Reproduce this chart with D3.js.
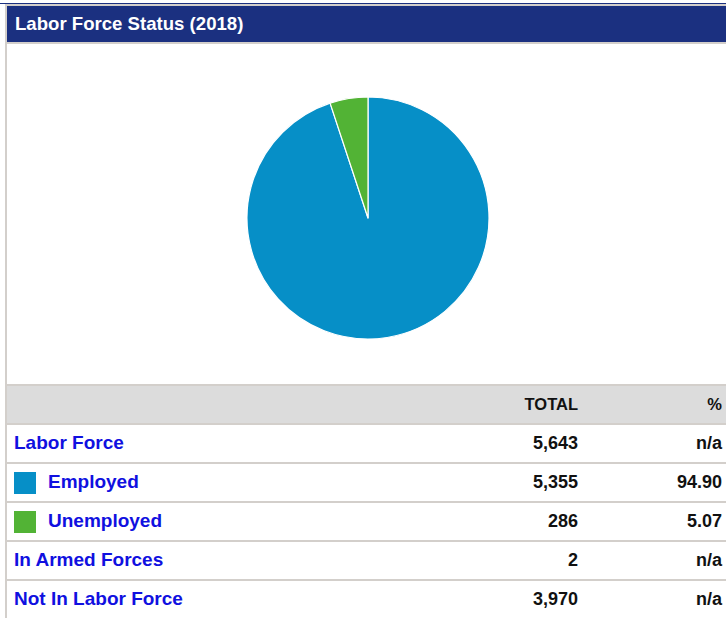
<!DOCTYPE html>
<html>
<head>
<meta charset="utf-8">
<script src="https://cdn.jsdelivr.net/npm/d3@7"></script>
<style>
  html, body { margin: 0; padding: 0; background: #fff; }
  svg { display: block; font-family: "Liberation Sans", Arial, sans-serif; }
</style>
</head>
<body>
<div id="chart"></div>
<script>
// chart data
const title = 'Labor Force Status (2018)';
const pieCategories = ['Employed', 'Unemployed'];
const pieValues = [5355, 286];
const pieColors = ['#068fc7', '#52b335'];

const rowLabels = ['Labor Force', 'Employed', 'Unemployed', 'In Armed Forces', 'Not In Labor Force'];
const rowTotals = ['5,643', '5,355', '286', '2', '3,970'];
const rowPercents = ['n/a', '94.90', '5.07', 'n/a', 'n/a'];
const columnHeads = ['TOTAL', '%'];

const W = 726, H = 618;
const navy = '#1b3080', lineGray = '#d3cfcb', headGray = '#dcdcdc', linkBlue = '#1010e0';

const svg = d3.select('#chart').append('svg')
    .attr('width', W)
    .attr('height', H);

// title bar
svg.append('rect').attr('x', 0).attr('y', 3).attr('width', W).attr('height', 1).attr('fill', navy);
svg.append('rect').attr('x', 5).attr('y', 4).attr('width', W).attr('height', 2).attr('fill', lineGray);
svg.append('rect').attr('x', 7).attr('y', 6).attr('width', W).attr('height', 36).attr('fill', navy);
svg.append('rect').attr('x', 5).attr('y', 42).attr('width', W).attr('height', 2).attr('fill', lineGray);
svg.append('text')
    .attr('x', 15).attr('y', 30)
    .attr('fill', '#fff')
    .attr('font-size', 18.6).attr('font-weight', 'bold')
    .text(title);

// left border
svg.append('rect').attr('x', 5).attr('y', 4).attr('width', 2).attr('height', H).attr('fill', lineGray);

// pie
const pie = d3.pie().sort(null);
const arc = d3.arc().innerRadius(0).outerRadius(121);
const pg = svg.append('g').attr('transform', 'translate(368,218)');
pg.selectAll('path')
    .data(pie(pieValues))
    .join('path')
    .attr('d', arc)
    .attr('fill', (d, i) => pieColors[i])
    .attr('stroke', '#fff')
    .attr('stroke-width', 1.2)
    .attr('stroke-linejoin', 'round');

// table
const tableTop = 384;
svg.append('rect').attr('x', 7).attr('y', tableTop).attr('width', W).attr('height', 2).attr('fill', lineGray);
svg.append('rect').attr('x', 7).attr('y', tableTop + 2).attr('width', W).attr('height', 37).attr('fill', headGray);
svg.append('rect').attr('x', 7).attr('y', tableTop + 39).attr('width', W).attr('height', 2).attr('fill', lineGray);

const colX = [578, 722];
svg.selectAll('text.colhead')
    .data(columnHeads)
    .join('text')
    .attr('class', 'colhead')
    .attr('x', (d, i) => colX[i])
    .attr('y', 410)
    .attr('text-anchor', 'end')
    .attr('font-size', 16.5).attr('font-weight', 'bold')
    .attr('fill', '#111')
    .text(d => d);

const y = d3.scaleBand()
    .domain(rowLabels)
    .range([425, 425 + 39 * rowLabels.length]);

const rows = svg.selectAll('g.row')
    .data(rowLabels)
    .join('g')
    .attr('class', 'row')
    .attr('transform', d => `translate(0,${y(d)})`);

rows.append('rect')
    .attr('x', 7).attr('y', y.bandwidth() - 2)
    .attr('width', W).attr('height', 2)
    .attr('fill', lineGray);

rows.filter(d => pieCategories.includes(d))
    .append('rect')
    .attr('x', 14).attr('y', 8)
    .attr('width', 22).attr('height', 22)
    .attr('fill', d => pieColors[pieCategories.indexOf(d)]);

rows.append('text')
    .attr('x', d => pieCategories.includes(d) ? 48 : 14)
    .attr('y', 24)
    .attr('fill', linkBlue)
    .attr('font-size', 19).attr('font-weight', 'bold')
    .text(d => d);

rows.append('text')
    .attr('x', colX[0]).attr('y', 24)
    .attr('text-anchor', 'end')
    .attr('font-size', 18).attr('font-weight', 'bold')
    .attr('fill', '#111')
    .text((d, i) => rowTotals[i]);

rows.append('text')
    .attr('x', colX[1]).attr('y', 24)
    .attr('text-anchor', 'end')
    .attr('font-size', 18).attr('font-weight', 'bold')
    .attr('fill', '#111')
    .text((d, i) => rowPercents[i]);
</script>
</body>
</html>
